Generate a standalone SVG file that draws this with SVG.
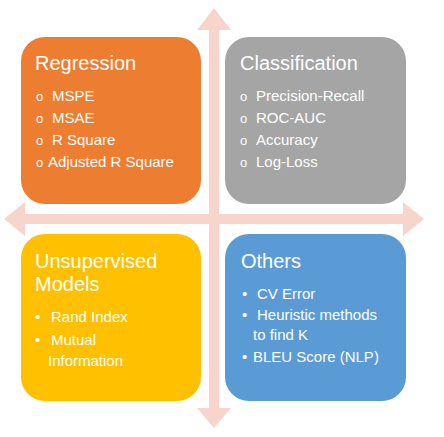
<svg xmlns="http://www.w3.org/2000/svg" width="444" height="437" viewBox="0 0 444 437">
<style>
.title{font-family:"Liberation Sans",Arial,sans-serif;font-size:20px;fill:#fff}
.item{font-family:"Liberation Sans",Arial,sans-serif;font-size:15px;fill:#fff}
.ob{font-family:"Liberation Sans",Arial,sans-serif;font-size:13px;fill:#fff}
.arrow{fill:#F8D5CB}
</style>
<rect width="444" height="437" fill="#fff"/>
<g id="connectors">
<polygon class="arrow" points="214,8 231,30 219,30 219,214 403,214 403,202 424,219 403,236 403,224 219,224 219,408 231,408 214,428 197,408 209,408 209,224 25,224 25,236 4,219 25,202 25,214 209,214 209,30 197,30"/>
</g>
<g id="regression">
<rect x="21" y="37" width="180" height="167" rx="24" fill="#ED7D31"/>
<text class="title" x="35" y="70">Regression</text>
<text class="ob" x="36" y="101">o</text><text class="item" x="52" y="101">MSPE</text>
<text class="ob" x="36" y="123">o</text><text class="item" x="52" y="123">MSAE</text>
<text class="ob" x="36" y="145">o</text><text class="item" x="52" y="145">R Square</text>
<text class="ob" x="36" y="167">o</text><text class="item" x="48" y="167">Adjusted R Square</text>
</g>
<g id="classification">
<rect x="225" y="37" width="181" height="167" rx="24" fill="#A5A5A5"/>
<text class="title" x="240" y="70">Classification</text>
<text class="ob" x="240" y="101">o</text><text class="item" x="256" y="101">Precision-Recall</text>
<text class="ob" x="240" y="123">o</text><text class="item" x="256" y="123">ROC-AUC</text>
<text class="ob" x="240" y="145">o</text><text class="item" x="256" y="145">Accuracy</text>
<text class="ob" x="240" y="167">o</text><text class="item" x="256" y="167">Log-Loss</text>
</g>
<g id="unsupervised">
<rect x="21" y="234" width="180" height="167" rx="24" fill="#FFC000"/>
<text class="title" x="35" y="268">Unsupervised</text>
<text class="title" x="35" y="291">Models</text>
<text class="item" x="35" y="322">•</text><text class="item" x="51" y="322">Rand Index</text>
<text class="item" x="35" y="345">•</text><text class="item" x="51" y="345">Mutual</text>
<text class="item" x="48" y="366">Information</text>
</g>
<g id="others">
<rect x="225" y="234" width="181" height="167" rx="24" fill="#5B9BD5"/>
<text class="title" x="241" y="268">Others</text>
<text class="item" x="242" y="299">•</text><text class="item" x="257" y="299">CV Error</text>
<text class="item" x="242" y="320">•</text><text class="item" x="257" y="320">Heuristic methods</text>
<text class="item" x="253" y="340">to find K</text>
<text class="item" x="242" y="362">•</text><text class="item" x="253" y="362">BLEU Score (NLP)</text>
</g>
</svg>
